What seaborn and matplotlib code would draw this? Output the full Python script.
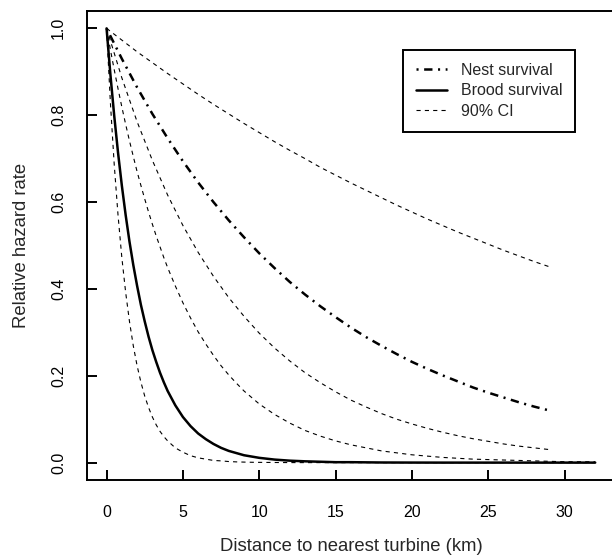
import numpy as np
import pandas as pd
import matplotlib.pyplot as plt
import seaborn as sns
from matplotlib.lines import Line2D

# values
nest_km = list(range(30))
nest_rate = [1.000, 0.930, 0.864, 0.803, 0.747, 0.694, 0.645, 0.600, 0.558, 0.519,
             0.482, 0.448, 0.416, 0.387, 0.360, 0.335, 0.311, 0.289, 0.269, 0.250,
             0.232, 0.216, 0.201, 0.187, 0.173, 0.161, 0.150, 0.139, 0.129, 0.120]
nest_hi = [1.000, 0.973, 0.946, 0.921, 0.896, 0.872, 0.848, 0.825, 0.803, 0.781,
           0.760, 0.739, 0.719, 0.700, 0.680, 0.662, 0.644, 0.627, 0.610, 0.593,
           0.577, 0.561, 0.546, 0.531, 0.517, 0.503, 0.489, 0.476, 0.463, 0.451]
nest_lo = [1.000, 0.886, 0.785, 0.696, 0.616, 0.546, 0.484, 0.429, 0.380, 0.337,
           0.298, 0.264, 0.234, 0.207, 0.184, 0.163, 0.144, 0.128, 0.113, 0.100,
           0.089, 0.079, 0.070, 0.062, 0.055, 0.049, 0.043, 0.038, 0.034, 0.030]

brood_km = [0, 0.25, 0.5, 0.75, 1, 1.25, 1.5, 1.75, 2, 2.25, 2.5, 2.75, 3, 3.25, 3.5, 3.75, 4,
            4.5, 5, 5.5, 6, 6.5, 7, 7.5, 8, 8.5, 9, 9.5, 10,
            11, 12, 13, 14, 15, 16,
            18, 20, 22, 24, 26, 28, 30, 32]
brood_rate = [1.000, 0.894, 0.799, 0.714, 0.638, 0.570, 0.509, 0.455, 0.407, 0.363, 0.325,
              0.290, 0.259, 0.232, 0.207, 0.185, 0.165,
              0.132, 0.105, 0.084, 0.067, 0.054, 0.043, 0.034, 0.027, 0.022, 0.017, 0.014, 0.011,
              0.007, 0.0045, 0.003, 0.002, 0.001, 0.001,
              0.0003, 0.0001, 0, 0, 0, 0, 0, 0]
brood_hi = [1.000, 0.951, 0.905, 0.861, 0.819, 0.779, 0.741, 0.705, 0.670, 0.638, 0.607,
            0.577, 0.549, 0.522, 0.497, 0.472, 0.449,
            0.407, 0.368, 0.333, 0.301, 0.273, 0.247, 0.223, 0.202, 0.183, 0.165, 0.150, 0.135,
            0.111, 0.091, 0.074, 0.061, 0.050, 0.041,
            0.027, 0.018, 0.012, 0.008, 0.006, 0.004, 0.002, 0.002]
brood_lo = [1.000, 0.829, 0.687, 0.570, 0.472, 0.392, 0.325, 0.269, 0.223, 0.185, 0.153,
            0.127, 0.105, 0.087, 0.072, 0.060, 0.050,
            0.034, 0.024, 0.016, 0.011, 0.008, 0.005, 0.004, 0.0025, 0.0017, 0.0012, 0.0008, 0.0006,
            0.0003, 0.0001, 0, 0, 0, 0,
            0, 0, 0, 0, 0, 0, 0, 0]

legend_labels = ['Nest survival', 'Brood survival', '90% CI']

sns.set_theme(style='ticks')
plt.rcParams['font.family'] = ['Liberation Sans', 'DejaVu Sans']
plt.rcParams['lines.scale_dashes'] = False
plt.rcParams['axes.linewidth'] = 1.4

dotdash = (0, (1.5, 4.0, 6.0, 4.0))
ci_dash = (0, (3.0, 3.0))

fig = plt.figure(figsize=(6.12, 5.58), dpi=100)
ax = fig.add_axes([0.1422, 0.1398, 0.8623, 0.8405])

nest = pd.DataFrame({'km': nest_km, 'rate': nest_rate, 'hi': nest_hi, 'lo': nest_lo})
brood = pd.DataFrame({'km': brood_km, 'rate': brood_rate, 'hi': brood_hi, 'lo': brood_lo})

# confidence bands first, thin dashed
for df in (nest, brood):
    for col in ('hi', 'lo'):
        sns.lineplot(data=df, x='km', y=col, ax=ax, color='black', lw=0.8,
                     linestyle=ci_dash, estimator=None, sort=False)
sns.lineplot(data=nest, x='km', y='rate', ax=ax, color='black', lw=1.8,
             linestyle=dotdash, estimator=None, sort=False)
sns.lineplot(data=brood, x='km', y='rate', ax=ax, color='black', lw=1.8,
             estimator=None, sort=False)

ax.set_xlim(-1.28, 33.28)
ax.set_ylim(-0.04, 1.04)
ax.set_xticks([0, 5, 10, 15, 20, 25, 30])
ax.set_yticks([0.0, 0.2, 0.4, 0.6, 0.8, 1.0])
ax.set_yticklabels(['0.0', '0.2', '0.4', '0.6', '0.8', '1.0'])
ax.tick_params(direction='in', length=7.2, width=1.4, labelsize=11.5, colors='black')
ax.tick_params(axis='x', pad=18)
ax.tick_params(axis='y', pad=15, labelrotation=90)
for t in ax.get_yticklabels():
    t.set_va('center')
for s in ax.spines.values():
    s.set_color('black')
    s.set_linewidth(1.4)

ax.set_xlabel('Distance to nearest turbine (km)', fontsize=13.3, labelpad=13)
ax.set_ylabel('Relative hazard rate', fontsize=13.3, labelpad=15)

handles = [Line2D([], [], color='black', lw=1.8, linestyle=dotdash),
           Line2D([], [], color='black', lw=1.8),
           Line2D([], [], color='black', lw=0.8, linestyle=ci_dash)]
leg = ax.legend(handles, legend_labels, loc='upper left', bbox_to_anchor=(0.599, 0.917),
                fontsize=11.5, frameon=True, fancybox=False, framealpha=1,
                edgecolor='black', handlelength=1.95, handletextpad=0.87,
                borderpad=0.8, labelspacing=0.35, borderaxespad=0)
leg.get_frame().set_linewidth(1.4)

fig.savefig('out.png', dpi=100)
